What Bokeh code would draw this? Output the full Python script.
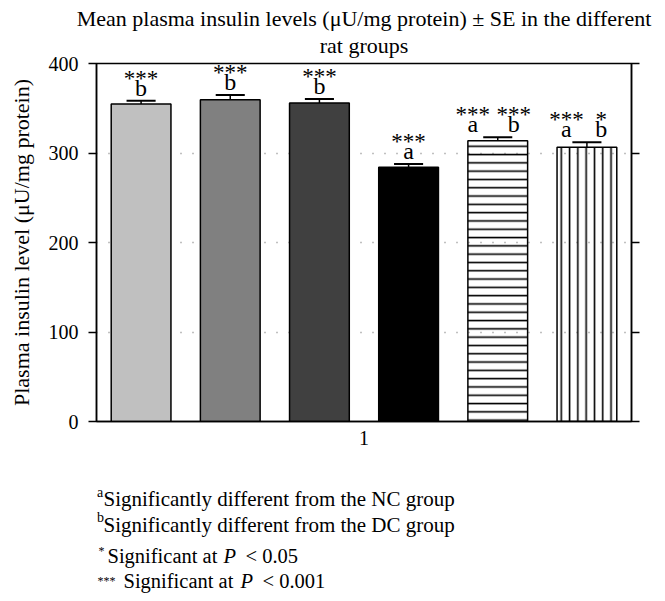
from bokeh.plotting import figure
from bokeh.models import ColumnDataSource, FixedTicker, LinearAxis, Title
from bokeh.layouts import column
from bokeh.embed import file_html
from bokeh.resources import INLINE
from bokeh.core.properties import value

# ---- data ----
means = [354.8, 359.6, 355.9, 284.0, 313.8, 306.3]
ses = [3.7, 5.2, 4.5, 3.8, 3.7, 5.6]
bar_fill = ["#c0c0c0", "#808080", "#404040", "#000000", "#ffffff", "#ffffff"]
bar_fill_alpha = [1, 1, 1, 1, 0, 0]
bar_hatch = ["blank", "blank", "blank", "blank", "-", "|"]
y_ticks = [0, 100, 200, 300, 400]
x_tick_label = "1"

# significance annotations: bar index, stars, letter
ann_bar = [0, 1, 2, 3, 4, 4, 5, 5]
ann_stars = ["***", "***", "***", "***", "***", "***", "***", "*"]
ann_letter = ["b", "b", "b", "a", "a", "b", "a", "b"]
ann_shift = [0, 0, 0, 0, -0.28, 0.18, -0.23, 0.16]

title_line1 = "Mean plasma insulin levels (\u03bcU/mg protein) \u00b1 SE in the different"
title_line2 = "rat groups"
y_label = "Plasma insulin level (\u03bcU/mg protein)"

# footnotes
note_sup = ["a", "b", "*", "***"]
note_text = ["Significantly different from the NC group",
             "Significantly different from the DC group",
             "Significant at", "Significant at"]
note_p = ["", "", "P", "P"]
note_val = ["", "", "< 0.05", "< 0.001"]

FONT = "Liberation Serif"
W = 657
FL, FR, FT, FB = 96, 631, 63, 421   # frame edges in page pixels
MAIN_H = 463

n = len(means)
xs = [i + 0.5 for i in range(n)]
tops = [m + s for m, s in zip(means, ses)]

p = figure(width=W, height=MAIN_H, x_range=(0, n), y_range=(0, 400),
           output_backend="svg", toolbar_location=None, title=None,
           min_border_left=FL, min_border_right=W - FR, min_border_top=FT,
           min_border_bottom=MAIN_H - FB)
p.background_fill_color = "white"
p.border_fill_color = "white"
p.outline_line_color = "black"
p.outline_line_width = 1.5

# title: two centred lines
p.add_layout(Title(text=title_line2, align="center", text_font=FONT, text_font_size="22px",
                   text_font_style="normal", text_color="black", standoff=10.5), "above")
p.add_layout(Title(text=title_line1, align="center", text_font=FONT, text_font_size="22px",
                   text_font_style="normal", text_color="black", standoff=-11.3), "above")

# grid
p.xgrid.visible = False
p.ygrid.ticker = FixedTicker(ticks=[100, 200, 300])
p.ygrid.grid_line_color = "#808080"
p.ygrid.grid_line_dash = "1 11"
p.ygrid.grid_line_width = 1.3

# bars
src = ColumnDataSource(dict(x=xs, top=means, fill=bar_fill, alpha=bar_fill_alpha,
                            hatch=bar_hatch))
p.vbar(x="x", top="top", bottom=0, width=0.67, source=src,
       fill_color="fill", fill_alpha="alpha", hatch_pattern="hatch",
       hatch_color="black", hatch_scale=8.3, hatch_weight=1.6,
       line_color="black", line_width=1.5)

# error bars (upper only)
p.segment(x0=xs, y0=means, x1=xs, y1=tops, line_color="black", line_width=1.5)
p.segment(x0=[x - 0.163 for x in xs], y0=tops, x1=[x + 0.163 for x in xs], y1=tops,
          line_color="black", line_width=2)

# annotations
ax = [xs[b] + d for b, d in zip(ann_bar, ann_shift)]
ay = [tops[b] for b in ann_bar]
p.text(x=ax, y=ay, text=ann_letter, text_font=value(FONT), text_font_size=value("24px"),
       text_align="center", text_baseline="alphabetic", y_offset=-13, text_color="black")
p.text(x=ax, y=ay, text=ann_stars, text_font=value(FONT), text_font_size=value("23px"),
       text_align="center", text_baseline="alphabetic", y_offset=-22.5, text_color="black")

# axes
p.yaxis.ticker = FixedTicker(ticks=y_ticks)
p.yaxis.major_tick_out = 8
p.yaxis.major_tick_in = 0
p.yaxis.minor_tick_line_color = None
p.yaxis.axis_line_width = 1.5
p.yaxis.major_tick_line_width = 1.5
p.yaxis.major_label_text_font = FONT
p.yaxis.major_label_text_font_size = "20px"
p.yaxis.major_label_text_color = "black"
p.yaxis.major_label_standoff = 10
p.yaxis.axis_label = y_label
p.yaxis.axis_label_text_font = FONT
p.yaxis.axis_label_text_font_size = "22px"
p.yaxis.axis_label_text_font_style = "normal"
p.yaxis.axis_label_text_color = "black"
p.yaxis.axis_label_standoff = 12

right = LinearAxis(ticker=FixedTicker(ticks=y_ticks),
                   major_label_overrides={t: "" for t in y_ticks})
right.major_tick_out = 8
right.major_tick_in = 0
right.minor_tick_line_color = None
right.axis_line_width = 1.5
right.major_tick_line_width = 1.5
p.add_layout(right, "right")

p.xaxis.ticker = FixedTicker(ticks=[n / 2])
p.xaxis.major_label_overrides = {n / 2: x_tick_label}
p.xaxis.major_tick_out = 0
p.xaxis.major_tick_in = 0
p.xaxis.minor_tick_line_color = None
p.xaxis.axis_line_width = 1.5
p.xaxis.major_label_text_font = FONT
p.xaxis.major_label_text_font_size = "20px"
p.xaxis.major_label_text_color = "black"
p.xaxis.major_label_standoff = 9

# ---- footnote panel: x in page pixels, y in pixels below the main figure ----
fh = 130
f = figure(width=W, height=fh, x_range=(FL, FR), y_range=(fh, 0),
           x_axis_type=None, y_axis_type=None, output_backend="svg",
           toolbar_location=None, min_border_left=FL, min_border_right=W - FR,
           min_border_top=0, min_border_bottom=0)
f.outline_line_color = None
f.grid.visible = False
f.background_fill_color = "white"
f.border_fill_color = "white"

sup_x = [96.5, 96.5, 98, 97]
sup_y = [29, 54, 87, 117]
sup_size = ["14px", "14px", "12px", "12px"]
txt_x = [103, 103, 107, 123]
txt_y = [35, 61, 92, 117]
txt_size = ["21px", "21px", "20.5px", "20.5px"]
p_x = [None, None, 223, 240]
val_x = [None, None, 245, 262]

for i in range(4):
    f.text(x=[sup_x[i]], y=[sup_y[i]], text=[note_sup[i]], text_font=value(FONT),
           text_font_size=value(sup_size[i]), text_baseline="alphabetic",
           text_color="black")
    f.text(x=[txt_x[i]], y=[txt_y[i]], text=[note_text[i]], text_font=value(FONT),
           text_font_size=value(txt_size[i]), text_baseline="alphabetic",
           text_color="black")
    if note_p[i]:
        f.text(x=[p_x[i]], y=[txt_y[i]], text=[note_p[i]], text_font=value(FONT),
               text_font_size=value(txt_size[i]), text_font_style="italic",
               text_baseline="alphabetic", text_color="black")
        f.text(x=[val_x[i]], y=[txt_y[i]], text=[note_val[i]], text_font=value(FONT),
               text_font_size=value(txt_size[i]), text_baseline="alphabetic",
               text_color="black")

layout = column(p, f)
open("out.html", "w").write(file_html(layout, INLINE))
